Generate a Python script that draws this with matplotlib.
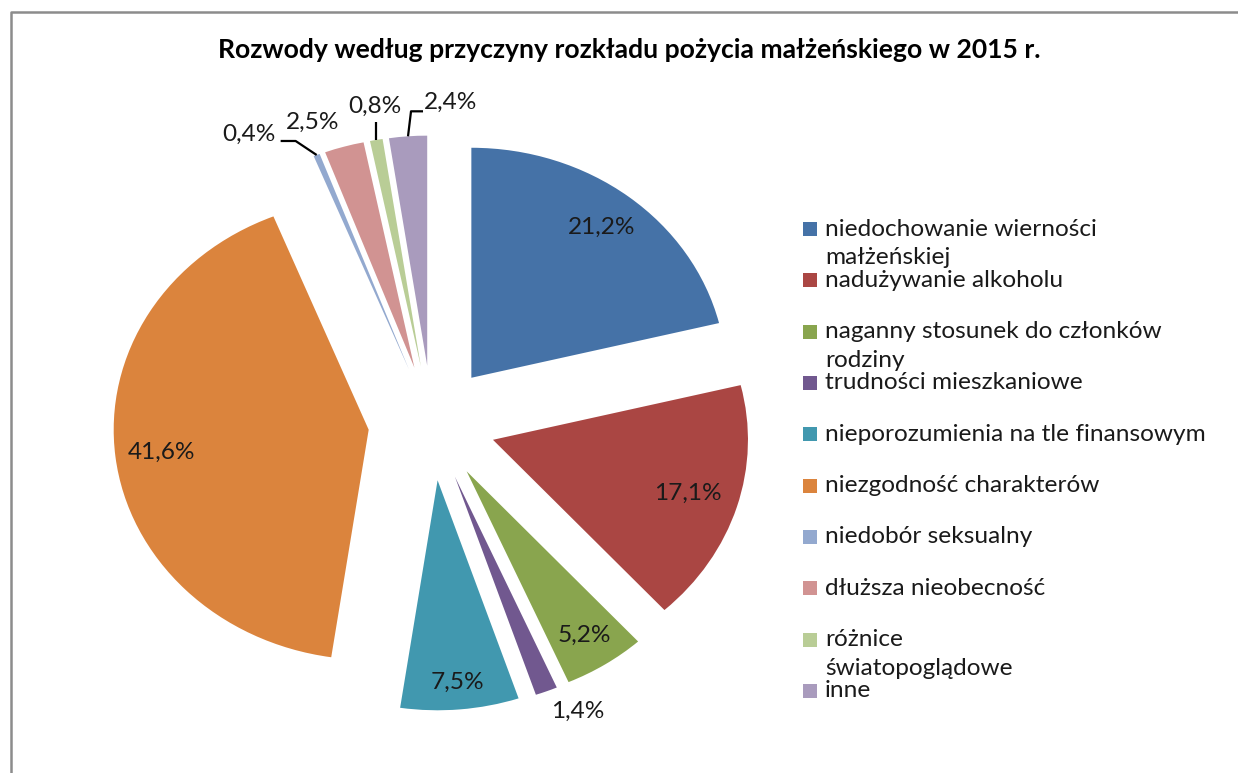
import matplotlib
matplotlib.use("Agg")
import matplotlib.pyplot as plt
from matplotlib.patches import Rectangle
from matplotlib.lines import Line2D
import numpy as np

# ---------------- data ----------------
title = "Rozwody według przyczyny rozkładu pożycia małżeńskiego w 2015 r."
categories = [
    "niedochowanie wierności\nmałżeńskiej",
    "nadużywanie alkoholu",
    "naganny stosunek do członków\nrodziny",
    "trudności mieszkaniowe",
    "nieporozumienia na tle finansowym",
    "niezgodność charakterów",
    "niedobór seksualny",
    "dłuższa nieobecność",
    "różnice\nświatopoglądowe",
    "inne",
]
values = [21.2, 17.1, 5.2, 1.4, 7.5, 41.6, 0.4, 2.5, 0.8, 2.4]
colors = ["#4572A7", "#AA4643", "#89A54E", "#71588F", "#4198AF",
          "#DB843D", "#93A9CF", "#D19392", "#B9CD96", "#A99BBD"]

# ---------------- layout (pixels) ----------------
W, H = 1238, 773
CX, CY, RX, RY = 432, 423, 255, 230   # pie centre and radii in pixels
LABEL_FONT = "Lato"
FS = 17.6

fig = plt.figure(figsize=(W / 100, H / 100), dpi=100)
ax = fig.add_axes([0, 0, 1, 1])
wedges, _ = ax.pie(values, colors=colors, startangle=90, counterclock=False,
                   explode=[0.25] * len(values), radius=1.0,
                   wedgeprops=dict(linewidth=0))
ax.set_aspect("auto")
ax.set_xlim(-CX / RX, (W - CX) / RX)
ax.set_ylim(-(H - CY) / RY, CY / RY)
ax.axis("off")


def px_off(dx, dy):
    """pixel offset (screen, y down) -> data offset"""
    return dx / RX, -dy / RY


def fmt(v):
    return f"{v:.1f}".replace(".", ",") + "%"


def point(w, f):
    th = np.deg2rad((w.theta1 + w.theta2) / 2)
    cx, cy = w.center
    return cx + f * w.r * np.cos(th), cy + f * w.r * np.sin(th)


# inside labels: index -> radial fraction
inside = {0: 0.83, 1: 0.80, 2: 0.85, 4: 0.88, 5: 0.82}
for i, f in inside.items():
    x, y = point(wedges[i], f)
    ax.text(x, y, fmt(values[i]), ha="center", va="center",
            fontsize=FS, family=LABEL_FONT, color="#1a1a1a")

# outside labels: index -> (text offset px, leader points px)
outside = {
    3: ((31, 20), None),
    6: ((-68, -21), [(0, 0), (-21, -14), (-36, -14)]),
    7: ((-31, -24), None),
    8: ((-1, -34), [(0, 0), (0, -18)]),
    9: ((43, -34), [(0, 0), (3, -25), (15, -25)]),
}
for i, (toff, leader) in outside.items():
    x0, y0 = point(wedges[i], 1.0)
    dx, dy = px_off(*toff)
    ax.text(x0 + dx, y0 + dy, fmt(values[i]), ha="center", va="center",
            fontsize=FS, family=LABEL_FONT, color="#1a1a1a")
    if leader:
        xs, ys = [], []
        for (lx, ly) in leader:
            ddx, ddy = px_off(lx, ly)
            xs.append(x0 + ddx)
            ys.append(y0 + ddy)
        ax.plot(xs, ys, color="black", lw=1.6, solid_capstyle="butt")

# ---------------- title ----------------
fig.text(629 / W, 1 - 58 / H, title, ha="center", va="baseline",
         fontsize=19.1, fontweight="bold", family="Lato", color="black")

# ---------------- legend ----------------
leg_x_sq, leg_y0, leg_dy, sq = 803, 229, 51.33, 14
text_x, line_h = 825, 29
for i, (lab, col) in enumerate(zip(categories, colors)):
    yc = leg_y0 + i * leg_dy
    fig.patches.append(Rectangle((leg_x_sq / W, 1 - (yc + sq / 2) / H),
                                 sq / W, sq / H, transform=fig.transFigure,
                                 facecolor=col, edgecolor="none"))
    for j, line in enumerate(lab.split("\n")):
        fig.text(text_x / W, 1 - (yc + 6.5 + j * line_h) / H, line,
                 ha="left", va="baseline", fontsize=FS, family=LABEL_FONT,
                 color="#1a1a1a")

# ---------------- chart-area border ----------------
fig.add_artist(Line2D([10.5 / W, 10.5 / W, 1.0], [0.0, 1 - 11.5 / H, 1 - 11.5 / H],
                      transform=fig.transFigure, color="#8c8c8c", lw=1.8))

fig.savefig("out.png", dpi=100, facecolor="white")
